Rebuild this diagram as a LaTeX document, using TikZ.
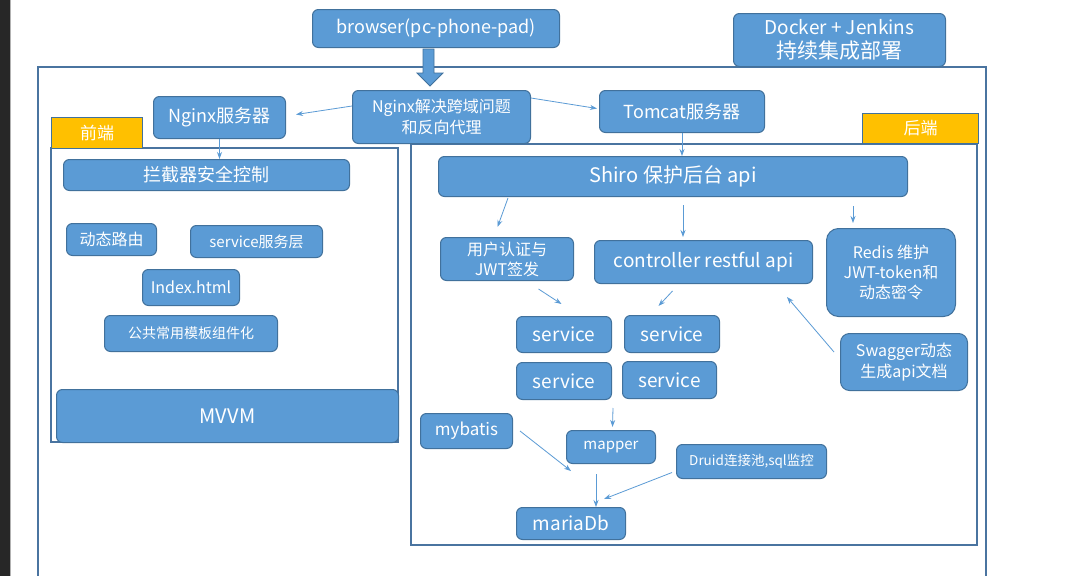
\documentclass[tikz,border=0pt]{standalone}
\usepackage{fontspec}
\setmainfont{Noto Sans CJK SC}
\usetikzlibrary{arrows.meta,calc}
\definecolor{boxblue}{HTML}{5B9BD5}
\definecolor{boxedge}{HTML}{41719C}
\definecolor{frameblue}{HTML}{4A74A0}
\definecolor{labelorange}{HTML}{FFC000}
\definecolor{darkstrip}{HTML}{272727}
\newcommand{\fs}[2]{\fontsize{#1}{#2}\selectfont}
\tikzset{
  bx/.style={draw=boxedge, fill=boxblue, line width=1pt, rounded corners=6pt,
    text=white, inner sep=0pt, align=center, anchor=north west},
  lbl/.style={draw=boxedge, fill=labelorange, line width=1pt,
    text=white, inner sep=0pt, align=center, anchor=north west},
  arr/.style={draw=boxblue, line width=0.8pt, -{Stealth[length=7pt,width=5pt]}},
  frm/.style={draw=frameblue, line width=1.1pt},
}
\begin{document}
\begin{tikzpicture}[x=1pt,y=-1pt]
\useasboundingbox (0,0) rectangle (1080,576);
\fill[white] (0,0) rectangle (1080,576);
\fill[darkstrip] (0,0) rectangle (10,576);
\draw[gray!60, line width=0.6pt] (10,0) -- (10,576);
% frames
\draw[frm] (38,577) -- (38,67) -- (986,67) -- (986,577);
\draw[frm] (51,148) rectangle (398,442);
\draw[frm] (411,144) rectangle (977,545);
% top boxes
\node[bx, minimum width=247pt, minimum height=38pt, font=\fs{18}{22}] (browser) at (312,9) {browser(pc-phone-pad)};
\node[bx, minimum width=212pt, minimum height=53pt, font=\fs{19}{24}] (docker) at (733,13) {Docker + Jenkins\\{\fs{21}{24}持续集成部署}};
% block arrow
\draw[draw=boxedge, fill=boxblue, line width=0.8pt]
  (423,49) -- (434,49) -- (434,73) -- (443,73) -- (430,86) -- (417,73) -- (423,73) -- cycle;
\node[bx, minimum width=178pt, minimum height=53pt, font=\fs{16}{21}] (nginxp) at (352,90) {Nginx解决跨域问题\\和反向代理};
\node[bx, minimum width=132pt, minimum height=42pt, font=\fs{18}{22}] (nginx) at (153,96) {Nginx服务器};
\node[bx, minimum width=165pt, minimum height=42pt, font=\fs{18}{22}] (tomcat) at (599,90) {Tomcat服务器};
\node[lbl, minimum width=91pt, minimum height=31pt, font=\fs{17}{20}] (qd) at (51,117) {前端};
\node[lbl, minimum width=116pt, minimum height=30pt, font=\fs{17}{20}] (hd) at (862,113) {后端};
% left panel
\node[bx, minimum width=286pt, minimum height=31pt, font=\fs{18}{22}] (intc) at (63,159) {拦截器安全控制};
\node[bx, minimum width=90pt, minimum height=32pt, font=\fs{16}{20}] (dyn) at (66,223) {动态路由};
\node[bx, minimum width=132pt, minimum height=32pt, font=\fs{15}{19}] (svcl) at (190,225) {service服务层};
\node[bx, minimum width=97pt, minimum height=36pt, font=\fs{16}{20}] (index) at (142,269) {Index.html};
\node[bx, minimum width=173pt, minimum height=36pt, font=\fs{14}{18}] (common) at (104,315) {公共常用模板组件化};
\node[bx, minimum width=342pt, minimum height=53pt, font=\fs{20}{24}] (mvvm) at (56,389) {MVVM};
% right panel
\node[bx, minimum width=469pt, minimum height=40pt, font=\fs{20}{24}] (shiro) at (438,156) {Shiro 保护后台 api};
\node[bx, minimum width=133pt, minimum height=43pt, font=\fs{16}{20}] (auth) at (440,237) {用户认证与\\JWT签发};
\node[bx, minimum width=218pt, minimum height=43pt, font=\fs{19}{23}] (ctrl) at (594,240) {controller restful api};
\node[bx, rounded corners=12pt, minimum width=129pt, minimum height=88pt, font=\fs{16}{20}] (redis) at (826,228) {Redis 维护\\JWT-token和\\动态密令};
\node[bx, minimum width=95pt, minimum height=36pt, font=\fs{19}{23}] (s1) at (516,316) {service};
\node[bx, minimum width=95pt, minimum height=37pt, font=\fs{19}{23}] (s2) at (624,315) {service};
\node[bx, minimum width=95pt, minimum height=37pt, font=\fs{19}{23}] (s3) at (516,362) {service};
\node[bx, minimum width=94pt, minimum height=37pt, font=\fs{19}{23}] (s4) at (622,361) {service};
\node[bx, rounded corners=9pt, minimum width=127pt, minimum height=57pt, font=\fs{16}{21}] (swagger) at (840,333) {Swagger动态\\生成api文档};
\node[bx, minimum width=92pt, minimum height=35pt, font=\fs{17}{21}] (mybatis) at (420,413) {mybatis};
\node[bx, minimum width=89pt, minimum height=33pt, font=\fs{15}{19}] (mapper) at (566,430) {mapper};
\node[bx, minimum width=150pt, minimum height=34pt, font=\fs{13.5}{17}] (druid) at (676,444) {Druid连接池,sql监控};
\node[bx, minimum width=109pt, minimum height=32pt, font=\fs{19}{23}] (maria) at (516,507) {mariaDb};
% connectors
\draw[arr] ([yshift=11pt]nginxp.west) -- ([xshift=10pt,yshift=3pt]nginx.east);
\draw[arr] ([yshift=19pt]nginxp.east) -- ([xshift=-2pt,yshift=3pt]tomcat.west);
\draw[arr] (nginx.south) -- (nginx.south |- intc.north);
\draw[arr] (tomcat.south) -- (tomcat.south |- shiro.north);
\draw[arr] ([xshift=70pt,yshift=-1pt]shiro.south west) -- ([xshift=-9.5pt,yshift=10pt]auth.north);
\draw[arr, shorten <=8pt, shorten >=3pt] ([xshift=10pt]shiro.south) -- ([xshift=10pt]shiro.south |- ctrl.north);
\draw[arr, shorten <=9pt, shorten >=5pt] ([xshift=180pt]shiro.south) -- ([xshift=180pt]shiro.south |- redis.north);
\draw[arr] ([xshift=31.5pt,yshift=-8pt]auth.south) -- ([xshift=-2.5pt,yshift=12pt]s1.north);
\draw[arr] ([xshift=-31pt,yshift=-7pt]ctrl.south) -- ([xshift=-13.5pt,yshift=9pt]s2.north);
\draw[arr] ([xshift=-6pt,yshift=10pt]swagger.west) -- ([xshift=-26pt,yshift=-13pt]ctrl.south east);
\draw[arr] ([xshift=1pt,yshift=-8pt]s3.south east) -- ([xshift=1.5pt,yshift=3pt]mapper.north);
\draw[arr] ([xshift=7pt]mybatis.east) -- ([yshift=36pt]maria.north);
\draw[arr, shorten <=10pt] ([xshift=-15pt]mapper.south) -- ([xshift=-15pt]mapper.south |- maria.north);
\draw[arr] ([xshift=-4pt,yshift=-11pt]druid.west) -- ([xshift=-22pt,yshift=8pt]maria.north east);
\end{tikzpicture}
\end{document}
